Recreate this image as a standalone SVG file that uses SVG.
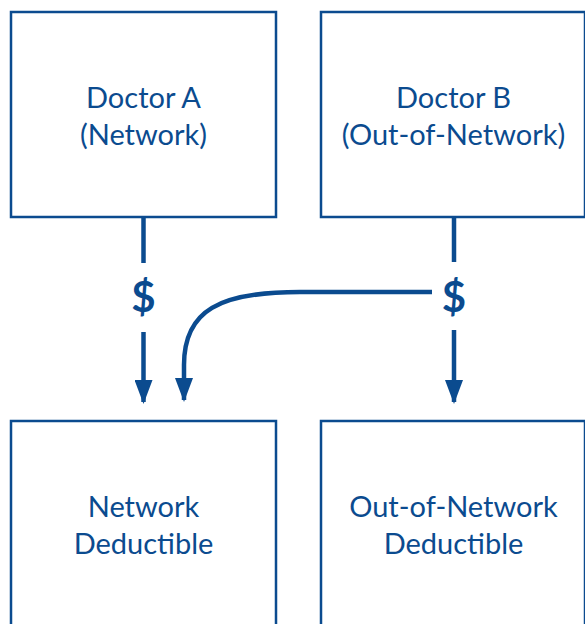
<svg xmlns="http://www.w3.org/2000/svg" width="585" height="624" viewBox="0 0 585 624">
  <defs>
    <style>
      .box { fill: #ffffff; stroke: #0b4b8f; stroke-width: 2.5; }
      .label { font-family: Lato, "Open Sans", sans-serif; font-size: 29px; fill: #0b4b8f; text-anchor: middle; }
      .dollar { font-family: Lato, "Open Sans", sans-serif; font-size: 42px; font-weight: bold; fill: #0b4b8f; text-anchor: middle; }
      .wire { fill: none; stroke: #0b4b8f; stroke-width: 4.5; }
    </style>
    <marker id="head" markerUnits="userSpaceOnUse" viewBox="0 0 24 18" refX="22" refY="9" markerWidth="24" markerHeight="18" orient="auto">
      <path d="M0,0 L24,9 L0,18 Z" fill="#0b4b8f"/>
    </marker>
  </defs>
  <rect width="585" height="624" fill="#ffffff"/>

  <g id="doctor-a">
    <rect class="box" x="11" y="12" width="265" height="205"/>
    <text class="label" x="143.5" y="108">Doctor A</text>
    <text class="label" x="143.5" y="145">(Network)</text>
  </g>

  <g id="doctor-b">
    <rect class="box" x="321" y="12" width="264" height="205"/>
    <text class="label" x="453.5" y="108">Doctor B</text>
    <text class="label" x="453.5" y="145">(Out-of-Network)</text>
  </g>

  <g id="network-deductible">
    <rect class="box" x="11" y="421" width="265" height="215"/>
    <text class="label" x="143.5" y="517">Network</text>
    <text class="label" x="143.5" y="554">Deductible</text>
  </g>

  <g id="out-of-network-deductible">
    <rect class="box" x="321" y="421" width="264" height="215"/>
    <text class="label" x="453.5" y="517">Out-of-Network</text>
    <text class="label" x="453.5" y="554">Deductible</text>
  </g>

  <g id="connectors">
    <path class="wire" d="M143.5,218 V263"/>
    <path class="wire" d="M143.5,332 V402" marker-end="url(#head)"/>
    <text class="dollar" x="143.5" y="312">$</text>

    <path class="wire" d="M454,218 V262"/>
    <path class="wire" d="M454,330 V402" marker-end="url(#head)"/>
    <text class="dollar" x="454" y="312">$</text>

    <path class="wire" d="M432,292 H300 C220,292 184,310 184,365 V400" marker-end="url(#head)"/>
  </g>
</svg>
